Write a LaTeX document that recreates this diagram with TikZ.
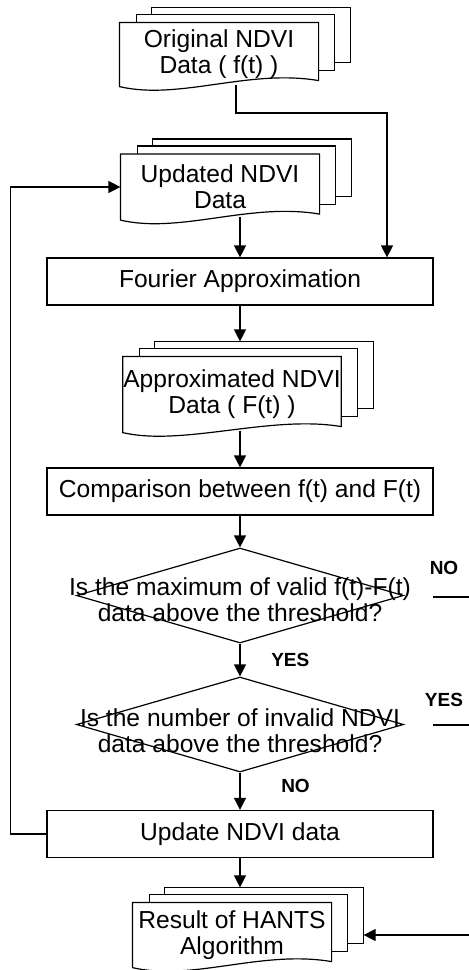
\documentclass[tikz,border=0pt]{standalone}
\usepackage{fontspec}
\setmainfont{Liberation Sans}
\usetikzlibrary{positioning,shapes.geometric,arrows.meta,calc}

% stacked sheets behind a document node, plus the front sheet with its wavy bottom
\newcommand{\docsheets}[1]{%
  \draw ($(#1.north west)+(17,0)$) |- ($(#1.north east)+(16,-8)$) |- ($(#1.south east)+(0,-16)$);
  \draw ($(#1.north west)+(32,-8)$) |- ($(#1.north east)+(32,-15)$) |- ($(#1.south east)+(16,-24)$);
  \draw (#1.north west) -- (#1.south west)
        .. controls +(60,14) and +(-70,-12) .. ($(#1.south east)+(0,-6)$)
        -- (#1.north east) -- cycle;
  \coordinate (#1-top) at ($(#1.north)+(0,-15)$);
  \coordinate (#1-right) at ($(#1.east)+(32,0)$);
}

\begin{document}
\begin{tikzpicture}[%
    x=0.5pt,
    y=-0.5pt,
    line width=0.6pt,
    arr/.style={-{Triangle[length=6pt,width=6pt]}},
    txt/.style={align=center, font=\fontsize{12.3}{13}\selectfont},
    doc/.style={txt, minimum width=99pt, inner sep=0pt},
    process/.style={txt, draw, minimum width=193pt, minimum height=23.5pt},
    decision/.style={diamond, draw, minimum width=163.5pt, minimum height=47.5pt, inner sep=0pt},
    lbl/.style={font=\fontsize{9.5}{11}\selectfont\bfseries}
  ]
    \useasboundingbox (0,0) rectangle (469,970);

    \node[doc, minimum height=31.5pt] (orig)   at (219,54.5)  {Original NDVI\\Data ( f(t) )};
    \docsheets{orig}
    \node[doc, minimum height=32.5pt] (upd)    at (220,187)   {Updated NDVI\\Data};
    \docsheets{upd}
    \node[process]                    (fourier) at (240,281.5) {Fourier Approximation};
    \node[doc, minimum height=37.5pt] (approx) at (232,394.5) {Approximated NDVI\\Data ( F(t) )};
    \docsheets{approx}
    \node[process]                    (comp)   at (240,491.5) {Comparison between f(t) and F(t)};
    \node[decision, label={[txt, yshift=-2pt]center:{Is the maximum of valid f(t)-F(t)\\data above the threshold?}}]
                                      (dia1)   at (240,595.5) {};
    \node[decision, label={[txt, yshift=-3pt]center:{Is the number of invalid NDVI\\data above the threshold?}}]
                                      (dia2)   at (240,724.5) {};
    \node[process]                    (update) at (240,834)   {Update NDVI data};
    \node[doc, minimum height=32pt]   (result) at (232,935)   {Result of HANTS\\Algorithm};
    \docsheets{result}

    \node[lbl] (no1)  at (444,568) {NO};
    \node[lbl] (yes2) at (444,700) {YES};

    \coordinate (bend)    at (387,113);
    \coordinate (nostub)  at (433,597);
    \coordinate (noend)   at (469,597);
    \coordinate (yesstub) at (433,725);
    \coordinate (yesend)  at (469,725);
    \coordinate (resin)   at (469,935);

    \draw[arr] ($(orig.south)+(17,-2)$) |- (bend) -- (bend |- fourier.north);
    \draw[arr] (update.west) -- ++(-36,0) |- (upd.west);
    \draw[arr] ($(upd.south -| fourier.north)+(0,-3)$) -- (fourier.north);
    \draw[arr] (fourier.south) -- (fourier.south |- approx-top);
    \draw[arr] ($(approx.south -| comp.north)+(0,-2)$) -- (comp.north);
    \draw[arr] (comp.south) -- (dia1.north);
    \draw[arr] (dia1.south) -- node[lbl, right=12pt] (yes1) {YES} (dia2.north);
    \draw[arr] (dia2.south) -- node[lbl, pos=0.35, right=17pt] (no2) {NO} (update.north);
    \draw[arr] (update.south) -- (update.south |- result-top);
    \draw[arr] (resin) -- (resin -| result-right);
    \draw (nostub) -- (noend);
    \draw (yesstub) -- (yesend);
\end{tikzpicture}
\end{document}
